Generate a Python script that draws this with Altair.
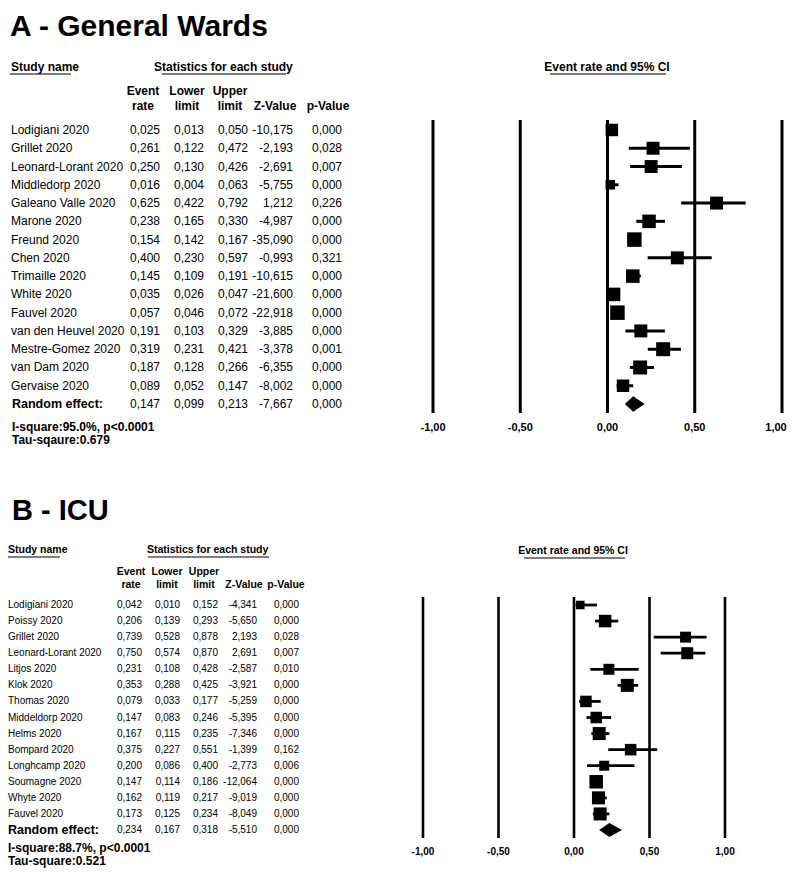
import altair as alt
import pandas as pd

# ---------------- data: panel A (General Wards) ----------------
A_NAMES = ["Lodigiani 2020", "Grillet 2020", "Leonard-Lorant 2020", "Middledorp 2020",
           "Galeano Valle 2020", "Marone 2020", "Freund 2020", "Chen 2020",
           "Trimaille 2020", "White 2020", "Fauvel 2020", "van den Heuvel 2020",
           "Mestre-Gomez 2020", "van Dam 2020", "Gervaise 2020"]
A_ER = [0.025, 0.261, 0.250, 0.016, 0.625, 0.238, 0.154, 0.400, 0.145, 0.035, 0.057, 0.191, 0.319, 0.187, 0.089]
A_LL = [0.013, 0.122, 0.130, 0.004, 0.422, 0.165, 0.142, 0.230, 0.109, 0.026, 0.046, 0.103, 0.231, 0.128, 0.052]
A_UL = [0.050, 0.472, 0.426, 0.063, 0.792, 0.330, 0.167, 0.597, 0.191, 0.047, 0.072, 0.329, 0.421, 0.266, 0.147]
A_Z = [-10.175, -2.193, -2.691, -5.755, 1.212, -4.987, -35.090, -0.993, -10.615, -21.600, -22.918, -3.885, -3.378, -6.355, -8.002]
A_P = [0.000, 0.028, 0.007, 0.000, 0.226, 0.000, 0.000, 0.321, 0.000, 0.000, 0.000, 0.000, 0.001, 0.000, 0.000]
A_WEIGHT = [74, 80, 80, 43, 80, 87, 100, 80, 87, 87, 100, 80, 93, 93, 74]
A_RE = [0.147, 0.099, 0.213, -7.667, 0.000]
A_ISQ = "I-square:95.0%, p<0.0001"
A_TAU = "Tau-sqaure:0.679"

# ---------------- data: panel B (ICU) ----------------
B_NAMES = ["Lodigiani 2020", "Poissy 2020", "Grillet 2020", "Leonard-Lorant 2020", "Litjos 2020",
           "Klok 2020", "Thomas 2020", "Middeldorp 2020", "Helms 2020", "Bompard 2020",
           "Longhcamp 2020", "Soumagne 2020", "Whyte 2020", "Fauvel 2020"]
B_ER = [0.042, 0.206, 0.739, 0.750, 0.231, 0.353, 0.079, 0.147, 0.167, 0.375, 0.200, 0.147, 0.162, 0.173]
B_LL = [0.010, 0.139, 0.528, 0.574, 0.108, 0.288, 0.033, 0.083, 0.115, 0.227, 0.086, 0.114, 0.119, 0.125]
B_UL = [0.152, 0.293, 0.878, 0.870, 0.428, 0.425, 0.177, 0.246, 0.235, 0.551, 0.400, 0.186, 0.217, 0.234]
B_Z = [-4.341, -5.650, 2.193, 2.691, -2.587, -3.921, -5.259, -5.395, -7.346, -1.399, -2.773, -12.064, -9.019, -8.049]
B_P = [0.000, 0.000, 0.028, 0.007, 0.010, 0.000, 0.000, 0.000, 0.000, 0.162, 0.006, 0.000, 0.000, 0.000]
B_WEIGHT = [40, 86, 66, 79, 66, 93, 73, 73, 93, 73, 55, 100, 93, 93]
B_RE = [0.234, 0.167, 0.318, -5.510, 0.000]
B_ISQ = "I-square:88.7%, p<0.0001"
B_TAU = "Tau-square:0.521"

TICKS = [-1.0, -0.5, 0.0, 0.5, 1.0]
COL_HEADERS_1 = ["Event", "Lower", "Upper", "", ""]
COL_HEADERS_2 = ["rate", "limit", "limit", "Z-Value", "p-Value"]
RE_LABEL = "Random effect:"

# ---------------- layout / style ----------------
FONT = "Liberation Sans"
W, H = 780, 860


def px(x):
    return x - 8


def py(y):
    return y - 8


LAYOUT_A = dict(
    title="A - General Wards", title_x=10, title_base=36, title_size=30,
    hdr_y=67, hdr_size=12, study_x=11, stats_x=154,
    ul_study=(10, 71), ul_stats=(162, 286), ul_y=74,
    hdr1_y=91, hdr2_y=106, col_centers=[143, 187, 230, 275, 328],
    num_right=[160, 204, 248, 293, 342], name_x=11, row_size=12, re_x=12, re_size=12.5,
    row0=130, rowN=404,
    isq_x=12, isq_y=427, tau_y=440, isq_size=12,
    ci_x=607, ci_y=67, ci_ul=(550, 666), ci_ul_y=74, ci_size=12,
    x_m1=433, x_p1=782, grid_top=120, grid_bot=413, grid_w=[3, 3, 2.5, 2, 3],
    tick_y=428, tick_size=11, last_tick_dx=-6,
    ci_w=3, sq_max=14.5, dia_half=7.8,
)

LAYOUT_B = dict(
    title="B - ICU", title_x=12, title_base=520, title_size=29,
    hdr_y=550, hdr_size=10.5, study_x=8, stats_x=147,
    ul_study=(8, 60), ul_stats=(148, 269), ul_y=557,
    hdr1_y=572, hdr2_y=585, col_centers=[131, 167, 204, 244, 286],
    num_right=[142, 180, 218, 257, 299], name_x=8, row_size=10, re_x=8, re_size=12.5,
    row0=605, rowN=830,
    isq_x=8, isq_y=848, tau_y=861, isq_size=12,
    ci_x=573, ci_y=551, ci_ul=(524, 625), ci_ul_y=558, ci_size=10.5,
    x_m1=423, x_p1=725, grid_top=597, grid_bot=838, grid_w=[2.6, 2.6, 2.6, 2.6, 2.6],
    tick_y=852, tick_size=10, last_tick_dx=0,
    ci_w=2.8, sq_max=13.5, dia_half=7.0,
)

ONE = alt.Data(values=[{"k": 0}])


def label(text, x, y, size, bold=False, align="left", baseline="middle"):
    return alt.Chart(ONE).mark_text(
        text=text, font=FONT, fontSize=size, fontWeight="bold" if bold else "normal",
        align=align, baseline=baseline, color="black"
    ).encode(x=alt.value(px(x)), y=alt.value(py(y)))


def hline(x1, x2, y, w=1.2):
    return alt.Chart(ONE).mark_rule(color="black", strokeWidth=w).encode(
        x=alt.value(px(x1)), x2=alt.value(px(x2)), y=alt.value(py(y)))


def fmt(field, digits=3):
    return (f"(datum.{field} < 0 ? '-' : '') + "
            f"replace(format(abs(datum.{field}), '.{digits}f'), '.', ',')")


def panel(names, er, ll, ul, z, p, weight, re, L):
    n = len(names)
    studies = pd.DataFrame({"row": list(range(n)), "name": names, "er": er, "ll": ll,
                            "ul": ul, "z": z, "p": p, "w": weight})
    allrows = pd.DataFrame({"row": list(range(n + 1)), "name": names + [RE_LABEL],
                            "er": er + [re[0]], "ll": ll + [re[1]], "ul": ul + [re[2]],
                            "z": z + [re[3]], "p": p + [re[4]]})
    d = L["dia_half"] / ((py(L["rowN"]) - py(L["row0"])) / n)
    diamond = pd.DataFrame({"x": [re[1], re[0], re[2]],
                            "top": [n, n - d, n], "bot": [n, n + d, n]})
    ticks = pd.DataFrame({"t": TICKS})

    xs = alt.Scale(domain=[-1, 1], range=[px(L["x_m1"]), px(L["x_p1"])], nice=False, zero=False)
    ys = alt.Scale(domain=[0, n], range=[py(L["row0"]), py(L["rowN"])], nice=False, zero=False)
    Y = alt.Y("row:Q", scale=ys, axis=None)

    layers = []
    # vertical reference lines
    layers.append(alt.Chart(ticks).mark_rule(color="black").encode(
        x=alt.X("t:Q", scale=xs, axis=None),
        y=alt.value(py(L["grid_top"])), y2=alt.value(py(L["grid_bot"])),
        strokeWidth=alt.StrokeWidth("t:O", scale=alt.Scale(domain=TICKS, range=L["grid_w"]), legend=None)))
    # tick labels (the last one nudged so it stays inside the page)
    tick_base = alt.Chart(ticks).transform_calculate(lab=fmt("t", 2))
    tick_style = dict(font=FONT, fontSize=L["tick_size"], fontWeight="bold", align="center",
                      baseline="middle", color="black")
    tick_enc = dict(x=alt.X("t:Q", scale=xs, axis=None), y=alt.value(py(L["tick_y"])), text="lab:N")
    layers.append(tick_base.transform_filter(f"datum.t < {TICKS[-1]}").mark_text(**tick_style).encode(**tick_enc))
    layers.append(tick_base.transform_filter(f"datum.t >= {TICKS[-1]}").mark_text(
        dx=L["last_tick_dx"], **tick_style).encode(**tick_enc))
    # CI lines
    layers.append(alt.Chart(studies).mark_rule(color="black", strokeWidth=L["ci_w"]).encode(
        x=alt.X("ll:Q", scale=xs, axis=None), x2="ul:Q", y=Y))
    # squares
    layers.append(alt.Chart(studies).mark_square(color="black", filled=True, opacity=1, strokeWidth=0).encode(
        x=alt.X("er:Q", scale=xs, axis=None), y=Y,
        size=alt.Size("w:Q", scale=alt.Scale(domain=[0, 100], range=[0, L["sq_max"] ** 2]), legend=None)))
    # diamond
    layers.append(alt.Chart(diamond).mark_area(color="black", orient="vertical", opacity=1).encode(
        x=alt.X("x:Q", scale=xs, axis=None), y=alt.Y("top:Q", scale=ys, axis=None), y2="bot:Q"))

    # table
    base = alt.Chart(allrows).transform_calculate(
        er_s=fmt("er"), ll_s=fmt("ll"), ul_s=fmt("ul"), z_s=fmt("z"), p_s=fmt("p"))
    layers.append(base.transform_filter(f"datum.row < {n}").mark_text(
        font=FONT, fontSize=L["row_size"], align="left", baseline="middle", color="black").encode(
        x=alt.value(px(L["name_x"])), y=Y, text="name:N"))
    layers.append(base.transform_filter(f"datum.row == {n}").mark_text(
        font=FONT, fontSize=L["re_size"], fontWeight="bold", align="left", baseline="middle",
        color="black").encode(x=alt.value(px(L["re_x"])), y=Y, text="name:N"))
    for col, right in zip(["er_s", "ll_s", "ul_s", "z_s", "p_s"], L["num_right"]):
        layers.append(base.mark_text(font=FONT, fontSize=L["row_size"], align="right",
                                     baseline="middle", color="black").encode(
            x=alt.value(px(right)), y=Y, text=f"{col}:N"))

    # static texts
    layers.append(label(L["title"], L["title_x"], L["title_base"], L["title_size"], bold=True,
                        baseline="alphabetic"))
    layers.append(label("Study name", L["study_x"], L["hdr_y"], L["hdr_size"], bold=True))
    layers.append(label("Statistics for each study", L["stats_x"], L["hdr_y"], L["hdr_size"], bold=True))
    layers.append(hline(*L["ul_study"], L["ul_y"]))
    layers.append(hline(*L["ul_stats"], L["ul_y"]))
    for h1, h2, cx in zip(COL_HEADERS_1, COL_HEADERS_2, L["col_centers"]):
        if h1:
            layers.append(label(h1, cx, L["hdr1_y"], L["hdr_size"], bold=True, align="center"))
        layers.append(label(h2, cx, L["hdr2_y"], L["hdr_size"], bold=True, align="center"))
    layers.append(label("Event rate and 95% CI", L["ci_x"], L["ci_y"], L["ci_size"], bold=True,
                        align="center"))
    layers.append(hline(*L["ci_ul"], L["ci_ul_y"]))
    layers.append(label(L["isq"], L["isq_x"], L["isq_y"], L["isq_size"], bold=True))
    layers.append(label(L["tau"], L["isq_x"], L["tau_y"], L["isq_size"], bold=True))
    return alt.layer(*layers)


LAYOUT_A["isq"], LAYOUT_A["tau"] = A_ISQ, A_TAU
LAYOUT_B["isq"], LAYOUT_B["tau"] = B_ISQ, B_TAU

panel_a = panel(A_NAMES, A_ER, A_LL, A_UL, A_Z, A_P, A_WEIGHT, A_RE, LAYOUT_A)
panel_b = panel(B_NAMES, B_ER, B_LL, B_UL, B_Z, B_P, B_WEIGHT, B_RE, LAYOUT_B)

chart = alt.layer(panel_a, panel_b).resolve_scale(
    x="independent", y="independent", size="independent", strokeWidth="independent"
).properties(
    width=W, height=H,
    autosize=alt.AutoSizeParams(type="none"),
    padding=0,
    background="white",
).configure_view(strokeWidth=0)

chart.save("out.html", embed_options={"renderer": "svg", "actions": False})
